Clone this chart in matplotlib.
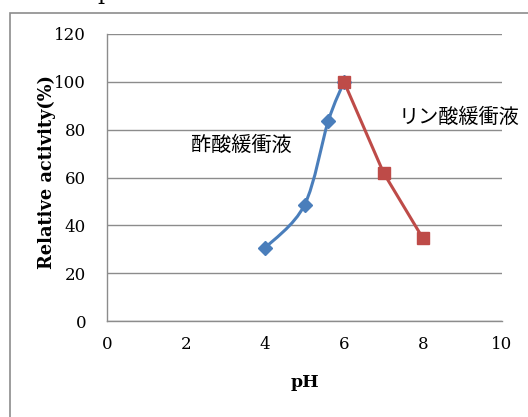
import numpy as np
import matplotlib
matplotlib.use('Agg')
import matplotlib.pyplot as plt
from matplotlib.path import Path
from matplotlib.patches import PathPatch, Rectangle

# data
ph_acetate = [4, 5, 5.6, 6]
act_acetate = [30.5, 48.5, 83.5, 100]
ph_phosphate = [6, 7, 8]
act_phosphate = [100, 62, 34.5]
x_ticks = [0, 2, 4, 6, 8, 10]
y_ticks = [0, 20, 40, 60, 80, 100, 120]

blue = '#4A7EBB'
red = '#BE4B48'
grid_c = '#8C8C8C'
serif = ['DejaVu Serif']
jp = ['Noto Sans CJK JP', 'DejaVu Sans']

W, H = 528, 417
fig = plt.figure(figsize=(W / 100, H / 100), dpi=100)

# outer chart frame (cut off on the right / bottom)
fig.patches.append(Rectangle((10 / W, -0.1), 1.2, (H - 13) / H + 0.1,
                             transform=fig.transFigure, fill=False,
                             edgecolor='#8C8C8C', linewidth=1.2))
# title fragment cut off at the very top
fig.text(104 / W, 1.0 + 1 / H, 'p', fontsize=16, family=serif, ha='center', va='baseline')

ax = fig.add_axes([107 / W, (H - 321) / H, (502 - 107) / W, (321 - 34) / H])
ax.set_xlim(0, 10)
ax.set_ylim(0, 120)
ax.set_xticks(x_ticks)
ax.set_yticks(y_ticks)
ax.tick_params(length=0, labelsize=12, colors='black')
ax.tick_params(axis='y', pad=15)
ax.tick_params(axis='x', pad=11)
for lab in ax.get_xticklabels() + ax.get_yticklabels():
    lab.set_fontfamily(serif)
ax.yaxis.grid(True, color=grid_c, linewidth=1.0)
ax.set_axisbelow(True)
for s in ['top', 'right']:
    ax.spines[s].set_visible(False)
for s in ['left', 'bottom']:
    ax.spines[s].set_color(grid_c)
    ax.spines[s].set_linewidth(1.0)

ax.set_xlabel('pH', fontsize=12.5, fontweight='bold', family=serif, labelpad=15)
ax.set_ylabel('Relative activity(%)', fontsize=12.8, fontweight='bold', family=serif, labelpad=-1)
ax.yaxis.label.set_y(0.52)


# smoothed line like Excel (cardinal spline -> cubic bezier), computed in pixel scale
def smooth_path(xs, ys, sx, sy):
    px = np.array(xs) * sx
    py = np.array(ys) * sy
    verts = [(px[0], py[0])]
    codes = [Path.MOVETO]
    n = len(px)
    for i in range(n - 1):
        i0 = max(i - 1, 0)
        i3 = min(i + 2, n - 1)
        c1 = (px[i] + (px[i + 1] - px[i0]) / 6, py[i] + (py[i + 1] - py[i0]) / 6)
        c2 = (px[i + 1] - (px[i3] - px[i]) / 6, py[i + 1] - (py[i3] - py[i]) / 6)
        verts += [c1, c2, (px[i + 1], py[i + 1])]
        codes += [Path.CURVE4] * 3
    verts = [(vx / sx, vy / sy) for vx, vy in verts]
    return Path(verts, codes)


sx = 39.5
sy = 287 / 120
ax.add_patch(PathPatch(smooth_path(ph_acetate, act_acetate, sx, sy), fill=False,
                       edgecolor=blue, linewidth=2.2, capstyle='round', zorder=3))
ax.plot(ph_acetate, act_acetate, linestyle='none', marker='D', markersize=7,
        color=blue, zorder=4, clip_on=False)
ax.plot(ph_phosphate, act_phosphate, color=red, linewidth=2.2, marker='s',
        markersize=9, zorder=5, clip_on=False)

ax.text(3.39, 73.5, '酢酸緩衝液', fontsize=14.5, family=jp, ha='center', va='center')
ax.text(8.92, 85, 'リン酸緩衝液', fontsize=14.5, family=jp, ha='center', va='center')

fig.savefig('out.png', dpi=100)
